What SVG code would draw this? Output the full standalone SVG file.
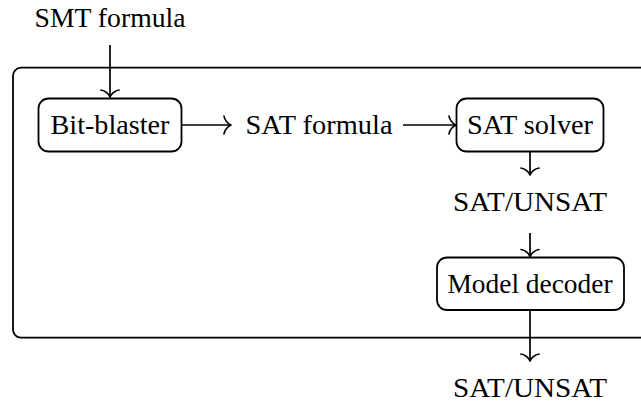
<svg xmlns="http://www.w3.org/2000/svg" width="641" height="405" viewBox="0 0 641 405">
  <style>
    .t { font-family: "Liberation Serif", "Times New Roman", serif; font-size: 27px; fill: #000; text-anchor: middle; }
    .box { fill: #fff; stroke: #000; stroke-width: 1.8; }
    .frame { fill: none; stroke: #000; stroke-width: 1.8; }
    .edge { fill: none; stroke: #000; stroke-width: 1.7; marker-end: url(#to); }
  </style>
  <defs>
    <marker id="to" markerUnits="userSpaceOnUse" orient="auto" refX="0" refY="0" markerWidth="20" markerHeight="20" viewBox="-10 -10 20 20" overflow="visible">
      <path d="M -7,-9 C -6.5,-4.8 -2.6,-1 0,0 C -2.6,1 -6.5,4.8 -7,9" fill="none" stroke="#000" stroke-width="1.7" stroke-linecap="round" stroke-linejoin="round"/>
    </marker>
  </defs>
  <rect width="641" height="405" fill="#fff"/>

  <g id="frame">
    <rect class="frame" x="13" y="67.7" width="700" height="270" rx="8" ry="8"/>
  </g>

  <g id="smt-formula">
    <text class="t" x="110" y="27" textLength="151" lengthAdjust="spacingAndGlyphs">SMT formula</text>
  </g>

  <g id="bit-blaster">
    <rect class="box" x="38.5" y="98.5" width="143" height="53" rx="10" ry="10"/>
    <text class="t" x="110" y="134" textLength="119" lengthAdjust="spacingAndGlyphs">Bit-blaster</text>
  </g>

  <g id="sat-formula">
    <text class="t" x="319" y="134" textLength="147" lengthAdjust="spacingAndGlyphs">SAT formula</text>
  </g>

  <g id="sat-solver">
    <rect class="box" x="456.5" y="98.5" width="147" height="53" rx="10" ry="10"/>
    <text class="t" x="530" y="134" textLength="126" lengthAdjust="spacingAndGlyphs">SAT solver</text>
  </g>

  <g id="sat-unsat-1">
    <text class="t" x="530" y="211" textLength="154" lengthAdjust="spacingAndGlyphs">SAT/UNSAT</text>
  </g>

  <g id="model-decoder">
    <rect class="box" x="437" y="257.5" width="187" height="52.5" rx="10" ry="10"/>
    <text class="t" x="530" y="292.5" textLength="165" lengthAdjust="spacingAndGlyphs">Model decoder</text>
  </g>

  <g id="sat-unsat-2">
    <text class="t" x="530" y="396.5" textLength="154" lengthAdjust="spacingAndGlyphs">SAT/UNSAT</text>
  </g>

  <g id="connectors">
    <path class="edge" d="M110,45 L110,97"/>
    <path class="edge" d="M182,125 L231,125"/>
    <path class="edge" d="M403,125 L456,125"/>
    <path class="edge" d="M530,151.5 L530,175"/>
    <path class="edge" d="M530,233 L530,256.5"/>
    <path class="edge" d="M530,310 L530,361"/>
  </g>
</svg>
